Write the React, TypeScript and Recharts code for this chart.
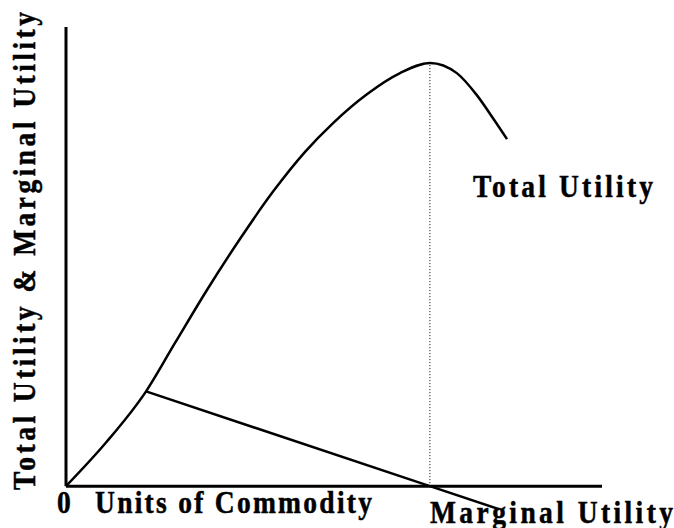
import React from 'react';
import { LineChart, Line, XAxis, YAxis, ReferenceLine } from 'recharts';

// units of commodity vs utility
const totalUtility = [
  { x: 0, y: 0 },
  { x: 1.1, y: 10.3 },
  { x: 2.2, y: 22.4 },
  { x: 3.0, y: 33.9 },
  { x: 3.87, y: 46.3 },
  { x: 4.78, y: 58.4 },
  { x: 5.69, y: 69.6 },
  { x: 6.57, y: 79.0 },
  { x: 7.34, y: 85.8 },
  { x: 8.27, y: 92.6 },
  { x: 9.18, y: 97.6 },
  { x: 10, y: 100 },
  { x: 10.74, y: 97.6 },
  { x: 11.29, y: 92.4 },
  { x: 11.73, y: 87.0 },
  { x: 12.12, y: 82.0 },
];

const marginalUtility = [
  { x: 2.2, y: 22.4 },
  { x: 10, y: 0 },
  { x: 11.9, y: -5.45 },
];

const maxUnits = 14.73;
const yTop = 108.5;
const yBottom = -8;
const peakX = 10;
const peakY = 100;

const font = '"Liberation Serif", "Times New Roman", serif';
const squeeze = 0.86;

// bold serif label, a little narrower than the stock font like the original
const Txt = ({ x, y, w, rotate = 0, anchor = 'start', children }: any) => (
  <g transform={`translate(${x} ${y}) rotate(${rotate}) scale(${squeeze} 1)`}>
    <text x={0} y={0} textAnchor={anchor} textLength={w / squeeze} lengthAdjust="spacing">
      {children}
    </text>
  </g>
);

export default function App() {
  return (
    <div style={{ position: 'absolute', left: 0, top: 0, width: 674, height: 528, background: '#fff' }}>
      <LineChart width={674} height={528} margin={{ top: 27, right: 72, left: 66, bottom: 8 }}>
        <XAxis type="number" dataKey="x" domain={[0, maxUnits]} hide />
        <YAxis type="number" domain={[yBottom, yTop]} hide />
        <ReferenceLine y={0} stroke="#000" strokeWidth={3} />
        <ReferenceLine segment={[{ x: 0, y: 0 }, { x: 0, y: yTop }]} stroke="#000" strokeWidth={3} />
        <ReferenceLine
          segment={[{ x: peakX, y: 0 }, { x: peakX, y: peakY }]}
          stroke="#000"
          strokeWidth={1}
          strokeDasharray="1 2"
        />
        <Line
          data={totalUtility}
          dataKey="y"
          type="monotone"
          stroke="#000"
          strokeWidth={2.5}
          dot={false}
          isAnimationActive={false}
        />
        <Line
          data={marginalUtility}
          dataKey="y"
          type="linear"
          stroke="#000"
          strokeWidth={2.5}
          dot={false}
          isAnimationActive={false}
        />
      </LineChart>
      <svg
        width={674}
        height={528}
        style={{ position: 'absolute', left: 0, top: 0, pointerEvents: 'none' }}
        fontFamily={font}
        fontWeight="bold"
        fontSize={32}
        stroke="#000"
        strokeWidth={0.5}
      >
        <Txt x={473} y={197} w={180}>Total Utility</Txt>
        <Txt x={57} y={513} w={14}>0</Txt>
        <Txt x={95} y={513} w={277}>Units of Commodity</Txt>
        <Txt x={430} y={523} w={243}>Marginal Utility</Txt>
        <Txt x={35} y={251} w={478} rotate={-90} anchor="middle">
          Total Utility &amp; Marginal Utility
        </Txt>
      </svg>
    </div>
  );
}
